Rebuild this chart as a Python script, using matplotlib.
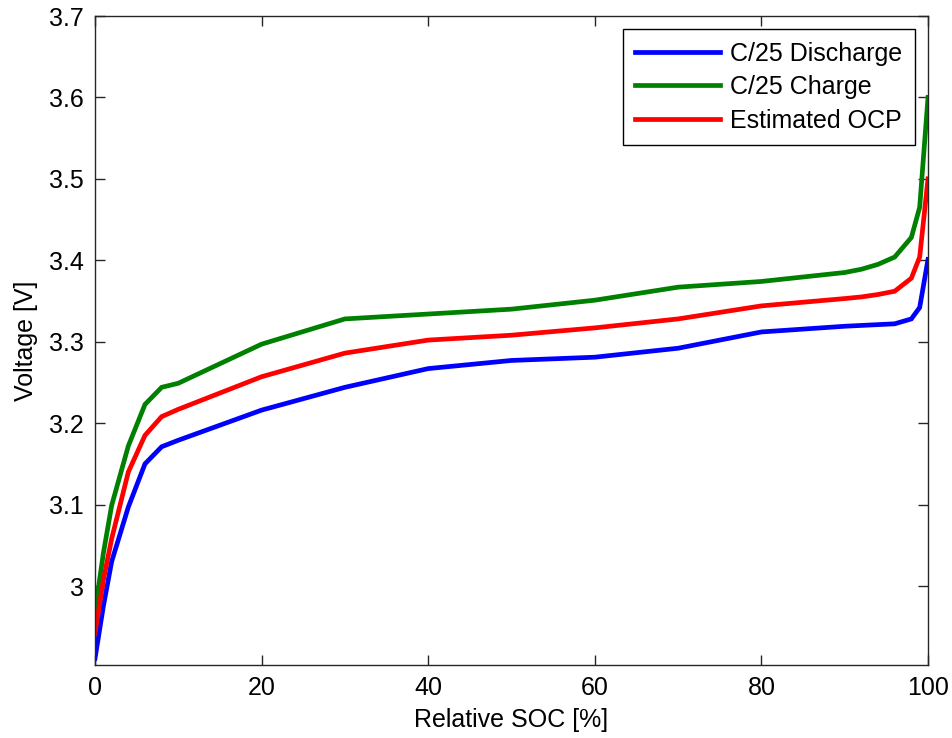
import matplotlib
matplotlib.use("Agg")
import matplotlib.pyplot as plt

soc = [0, 1, 2, 4, 6, 8, 10, 20, 30, 40, 50, 60, 70, 80, 90, 92, 94, 96, 98, 99, 100]
discharge = [2.911, 2.975, 3.030, 3.097, 3.150, 3.171, 3.179, 3.216, 3.244, 3.267, 3.277,
             3.281, 3.292, 3.312, 3.319, 3.320, 3.321, 3.322, 3.328, 3.342, 3.401]
charge = [2.968, 3.040, 3.099, 3.172, 3.223, 3.244, 3.249, 3.297, 3.328, 3.334, 3.340,
          3.351, 3.367, 3.374, 3.385, 3.389, 3.395, 3.404, 3.428, 3.465, 3.600]
ocp = [2.942, 3.007, 3.058, 3.140, 3.185, 3.208, 3.217, 3.257, 3.286, 3.302, 3.308,
       3.317, 3.328, 3.344, 3.353, 3.355, 3.358, 3.362, 3.378, 3.404, 3.500]
labels = ["C/25 Discharge", "C/25 Charge", "Estimated OCP"]
colors = ["#0000ff", "#008000", "#ff0000"]
xticks = [0, 20, 40, 60, 80, 100]
yticks = [3.0, 3.1, 3.2, 3.3, 3.4, 3.5, 3.6, 3.7]
yticklabels = ["3", "3.1", "3.2", "3.3", "3.4", "3.5", "3.6", "3.7"]

plt.rcParams['font.family'] = ['Liberation Sans', 'DejaVu Sans']
fig = plt.figure(figsize=(9.53, 7.38), dpi=100)
ax = fig.add_axes([95/953, 1-665/738, (928-95)/953, (665-16)/738])

for y, lab, c in zip([discharge, charge, ocp], labels, colors):
    ax.plot(soc, y, color=c, lw=3.4, label=lab, solid_joinstyle='miter')

ax.set_xlim(0, 100)
ax.set_ylim(2.903, 3.7)
ax.set_xticks(xticks)
ax.set_yticks(yticks)
ax.set_yticklabels(yticklabels)
ax.tick_params(direction='in', length=7, width=1, top=True, right=True,
               labelsize=18, colors='#262626', labelcolor='black', pad=8)
for s in ax.spines.values():
    s.set_linewidth(1)
    s.set_color('#262626')
ax.set_xlabel("Relative SOC [%]", fontsize=18, labelpad=6)
ax.set_ylabel("Voltage [V]", fontsize=18, labelpad=8)

leg = ax.legend(loc='upper right', bbox_to_anchor=(915/953, 1-29/738),
                bbox_transform=fig.transFigure, borderaxespad=0,
                fontsize=18, frameon=True, fancybox=False, framealpha=1,
                edgecolor='black', handlelength=3.4, handletextpad=0.4,
                labelspacing=0.38, borderpad=0.5)
leg.get_frame().set_linewidth(1)

fig.savefig("out.png", dpi=100)
